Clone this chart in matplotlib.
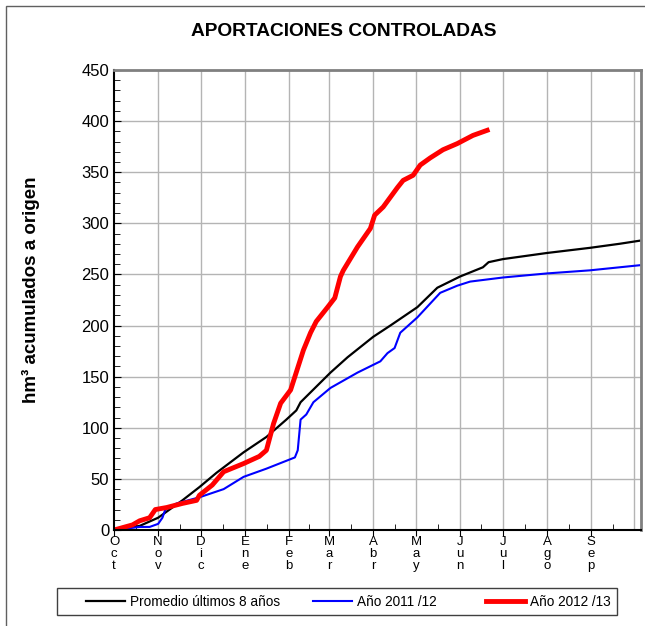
import matplotlib
matplotlib.use('Agg')
import matplotlib.pyplot as plt
from matplotlib.patches import Rectangle

plt.rcParams['font.family'] = ['Liberation Sans', 'DejaVu Sans']

# dias desde el 1 de octubre
month_labels = ['Oct', 'Nov', 'Dic', 'Ene', 'Feb', 'Mar', 'Abr', 'May', 'Jun', 'Jul', 'Ago', 'Sep']
month_days = [31, 30, 31, 31, 28, 31, 30, 31, 30, 31, 31, 30]

prom_x = [0, 18, 31, 48, 60, 72, 91, 107, 121, 128, 131, 152, 164, 182, 194, 213, 227,
          243, 259, 263, 273, 304, 334, 355, 369]
prom_y = [0, 4, 12, 29, 42, 56, 76, 91, 108, 117, 125, 154, 169, 189, 200, 218, 237,
          248, 257, 262, 265, 271, 276, 280, 283]

a1112_x = [0, 18, 25, 31, 34, 36, 44, 60, 77, 91, 107, 127, 129, 131, 135, 140, 152, 171,
           187, 192, 197, 201, 213, 229, 241, 250, 273, 304, 334, 369]
a1112_y = [0, 3, 3, 6, 12, 20, 26, 32, 40, 52, 60, 71, 78, 108, 113, 125, 139, 154,
           165, 173, 178, 193, 208, 232, 239, 243, 247, 251, 254, 259]

a1213_x = [0, 13, 18, 25, 29, 37, 48, 58, 60, 69, 77, 91, 102, 107, 112, 117, 124, 133,
           138, 142, 150, 155, 159, 161, 171, 180, 183, 189, 199, 203, 210, 215, 222,
           231, 241, 252, 262]
a1213_y = [0, 5, 9, 12, 20, 22, 26, 29, 34, 44, 57, 65, 72, 78, 104, 124, 137, 176,
           193, 204, 218, 227, 248, 254, 277, 295, 308, 316, 335, 342, 347, 357, 364,
           372, 378, 386, 391]

starts = [0]
for d in month_days:
    starts.append(starts[-1] + d)
mids = [(starts[i] + starts[i + 1]) / 2 for i in range(12)]

fig = plt.figure(figsize=(6.45, 6.26), dpi=100)
ax = fig.add_axes([114 / 645, 96 / 626, 527 / 645, 460 / 626])

l1, = ax.plot(prom_x, prom_y, color='black', lw=1.6, label='Promedio últimos 8 años')
l2, = ax.plot(a1112_x, a1112_y, color='#0000ff', lw=1.5, label='Año 2011 /12')
l3, = ax.plot(a1213_x, a1213_y, color='#ff0000', lw=3.5, label='Año 2012 /13')

ax.set_xlim(0, 370)
ax.set_ylim(0, 450)
ax.set_yticks(range(0, 451, 50))
ax.set_yticks(range(0, 451, 10), minor=True)
ax.set_xticks(starts[:12])
ax.set_xticklabels(['\n'.join(m) for m in month_labels], fontsize=9.5, linespacing=1.05)
ax.set_xticks(mids, minor=True)
ax.tick_params(axis='y', which='major', labelsize=12, direction='in', length=5)
ax.tick_params(axis='y', which='minor', direction='in', length=4)
ax.tick_params(axis='x', which='major', direction='out', length=4, pad=0)
ax.tick_params(axis='x', which='minor', direction='in', length=4)

for x in starts[1:]:
    ax.axvline(x, color='#b4b4b4', lw=1, zorder=0)
ax.grid(axis='y', color='#b4b4b4', lw=1)
ax.set_axisbelow(True)

ax.spines['left'].set_color('black')
ax.spines['left'].set_linewidth(1.5)
ax.spines['bottom'].set_color('black')
ax.spines['bottom'].set_linewidth(1.5)
ax.spines['top'].set_color('#808080')
ax.spines['top'].set_linewidth(2)
ax.spines['right'].set_color('#808080')
ax.spines['right'].set_linewidth(2)

fig.text(31 / 645, 1 - 290 / 626, 'hm³ acumulados a origen', fontsize=13.5,
         fontweight='bold', rotation=90, ha='center', va='center')
fig.text(344 / 645, 1 - 32 / 626, 'APORTACIONES CONTROLADAS', fontsize=13.8,
         fontweight='bold', ha='center', va='center')

# caja de la leyenda
fig.patches.append(Rectangle((57 / 645, 11 / 626), 560 / 645, 27 / 626, transform=fig.transFigure,
                             fill=False, edgecolor='#404040', lw=1))
for line, xpos in zip([l1, l2, l3], [86, 313, 486]):
    leg = fig.legend(handles=[line], loc='center left', fontsize=9.8, frameon=False,
                     bbox_to_anchor=(xpos / 645, 24.5 / 626), handlelength=2.9,
                     handletextpad=0.35, borderpad=0, borderaxespad=0)

fig.patches.append(Rectangle((6 / 645, -0.1), 2, 1 + 0.1 - 6 / 626, transform=fig.transFigure,
                             fill=False, edgecolor='#606060', lw=1))

fig.savefig('out.png', dpi=100)
